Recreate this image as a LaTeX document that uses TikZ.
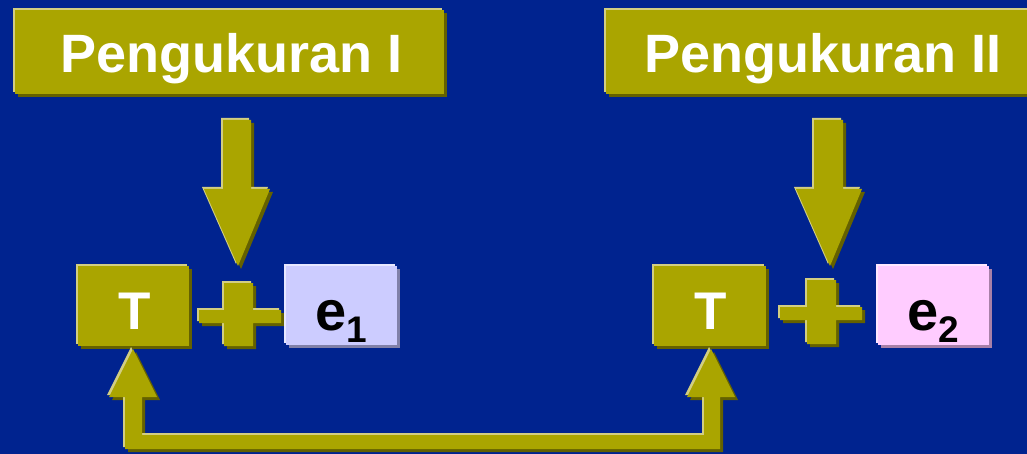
\documentclass[tikz,border=0pt]{standalone}
\usepackage{fontspec}
\setmainfont{Liberation Sans}
\usetikzlibrary{shadows}
\definecolor{navy}{RGB}{0,35,143}
\definecolor{olv}{RGB}{170,165,0}
\definecolor{olvLight}{RGB}{210,206,130}
\definecolor{olvDark}{RGB}{100,97,0}
\definecolor{lav}{RGB}{204,204,255}
\definecolor{lavLight}{RGB}{232,232,255}
\definecolor{lavDark}{RGB}{128,128,168}
\definecolor{pnk}{RGB}{255,204,255}
\definecolor{pnkLight}{RGB}{255,232,255}
\definecolor{pnkDark}{RGB}{168,128,168}
\begin{document}
\begin{tikzpicture}[x=1pt,y=-1pt,
  raised/.style n args={3}{fill=#1,
    general shadow={fill=#3,shadow xshift=3pt,shadow yshift=-3pt},
    general shadow={fill=#2,shadow xshift=-2pt,shadow yshift=2pt}},
  olive3d/.style={raised={olv}{olvLight}{olvDark}},
  box/.style={draw=none,inner sep=0pt,rectangle},
  titletext/.style={text=white,font=\fontsize{54}{60}\selectfont\bfseries,inner sep=0pt,anchor=base},
  ttext/.style={text=white,font=\fontsize{53}{60}\selectfont\bfseries,inner sep=0pt,anchor=base},
  etext/.style={text=black,font=\fontsize{56}{60}\selectfont\bfseries,inner sep=0pt,anchor=base}]
\useasboundingbox (0,0) rectangle (1027,454);
\fill[navy] (0,0) rectangle (1027,454);

% title boxes
\node[box,olive3d,minimum width=429pt,minimum height=84pt] (title1) at (229.5,52) {};
\node[titletext] (title1text) at (231.5,73) {Pengukuran I};
\node[box,olive3d,minimum width=450pt,minimum height=84pt] (title2) at (831,52) {};
\node[titletext] (title2text) at (823,73) {Pengukuran II};

% down arrows
\fill[olive3d] (223,120) -- (251,120) -- (251,189) -- (270,189) -- (238,266)
  -- (204,189) -- (223,189) -- cycle;
\fill[olive3d] (814,120) -- (843,120) -- (843,189) -- (862,189) -- (830,266)
  -- (796,189) -- (814,189) -- cycle;

% T boxes
\node[box,olive3d,minimum width=111pt,minimum height=80pt] (T1) at (133.5,306) {};
\node[ttext] (T1text) at (135,329) {T};
\node[box,olive3d,minimum width=112pt,minimum height=80pt] (T2) at (710,306) {};
\node[ttext] (T2text) at (711,329) {T};

% plus signs
\fill[olive3d] (224,283) -- (253,283) -- (253,310) -- (281,310) -- (281,323) -- (253,323)
  -- (253,346) -- (224,346) -- (224,323) -- (199,323) -- (199,310) -- (224,310) -- cycle;
\fill[olive3d] (807,280) -- (836,280) -- (836,307) -- (862,307) -- (862,320) -- (836,320)
  -- (836,344) -- (807,344) -- (807,320) -- (780,320) -- (780,307) -- (807,307) -- cycle;

% error boxes
\node[box,raised={lav}{lavLight}{lavDark},minimum width=111pt,minimum height=79pt] (e1) at (341.5,305.5) {};
\node[etext] (e1text) at (341.5,330) {e\raisebox{-12pt}{\fontsize{37}{40}\selectfont 1}};
\node[box,raised={pnk}{pnkLight}{pnkDark},minimum width=111pt,minimum height=79pt] (e2) at (933.5,305.5) {};
\node[etext] (e2text) at (933.5,330) {e\raisebox{-12pt}{\fontsize{37}{40}\selectfont 2}};

% bottom double-headed U arrow
\fill[olive3d] (133,349) -- (157,397) -- (142,397) -- (142,435) -- (704,435) -- (704,397)
  -- (687,397) -- (711,349) -- (735,397) -- (720,397) -- (720,449) -- (125,449)
  -- (125,397) -- (109,397) -- cycle;
\end{tikzpicture}
\end{document}
